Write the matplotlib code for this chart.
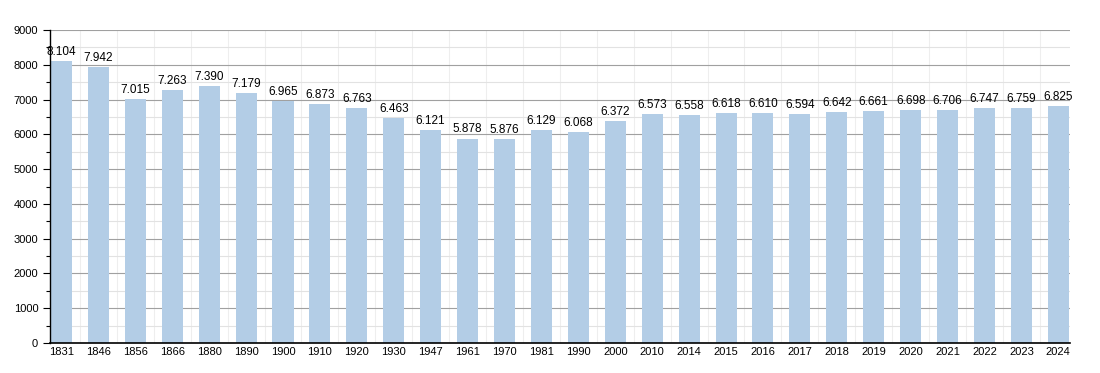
import matplotlib
matplotlib.use("Agg")
import matplotlib.pyplot as plt
from matplotlib.ticker import MultipleLocator

years = ["1831", "1846", "1856", "1866", "1880", "1890", "1900", "1910", "1920", "1930",
         "1947", "1961", "1970", "1981", "1990", "2000", "2010", "2014", "2015", "2016",
         "2017", "2018", "2019", "2020", "2021", "2022", "2023", "2024"]
population = [8104, 7942, 7015, 7263, 7390, 7179, 6965, 6873, 6763, 6463,
              6121, 5878, 5876, 6129, 6068, 6372, 6573, 6558, 6618, 6610,
              6594, 6642, 6661, 6698, 6706, 6747, 6759, 6825]

plt.rcParams['font.family'] = ['Liberation Sans', 'DejaVu Sans']

fig = plt.figure(figsize=(11, 3.73), dpi=100)
ax = fig.add_axes([0.0455, 0.0804, 0.927, 0.8392])

x = range(len(years))
ax.bar(x, population, width=0.57, color='#b3cde6', zorder=2)

# faint separators between categories
ax.vlines([i + 0.5 for i in range(len(years) - 1)], 0, 9000,
          color='#eeeeee', linewidth=0.8, zorder=1)

for i, v in enumerate(population):
    lbl = f"{v:,}".replace(",", ".")
    ax.text(i, v + 90, lbl, ha='center', va='bottom', fontsize=8.5, zorder=3)

ax.set_xlim(-0.31, len(years) - 0.69)
ax.set_ylim(0, 9000)
ax.set_xticks(list(x))
ax.set_xticklabels(years, fontsize=8)
ax.tick_params(axis='x', length=0, pad=3)
ax.yaxis.set_major_locator(MultipleLocator(1000))
ax.yaxis.set_minor_locator(MultipleLocator(500))
ax.tick_params(axis='y', which='major', length=5, labelsize=8, width=0.8)
ax.tick_params(axis='y', which='minor', length=3, width=0.8)

ax.grid(axis='y', which='major', color='#a0a0a0', linewidth=0.8, zorder=0)
ax.grid(axis='y', which='minor', color='#e2e2e2', linewidth=0.8, zorder=0)

for s in ['top', 'right']:
    ax.spines[s].set_visible(False)
ax.spines['left'].set_linewidth(1.0)
ax.spines['bottom'].set_linewidth(1.2)

fig.savefig("out.png", dpi=100)
